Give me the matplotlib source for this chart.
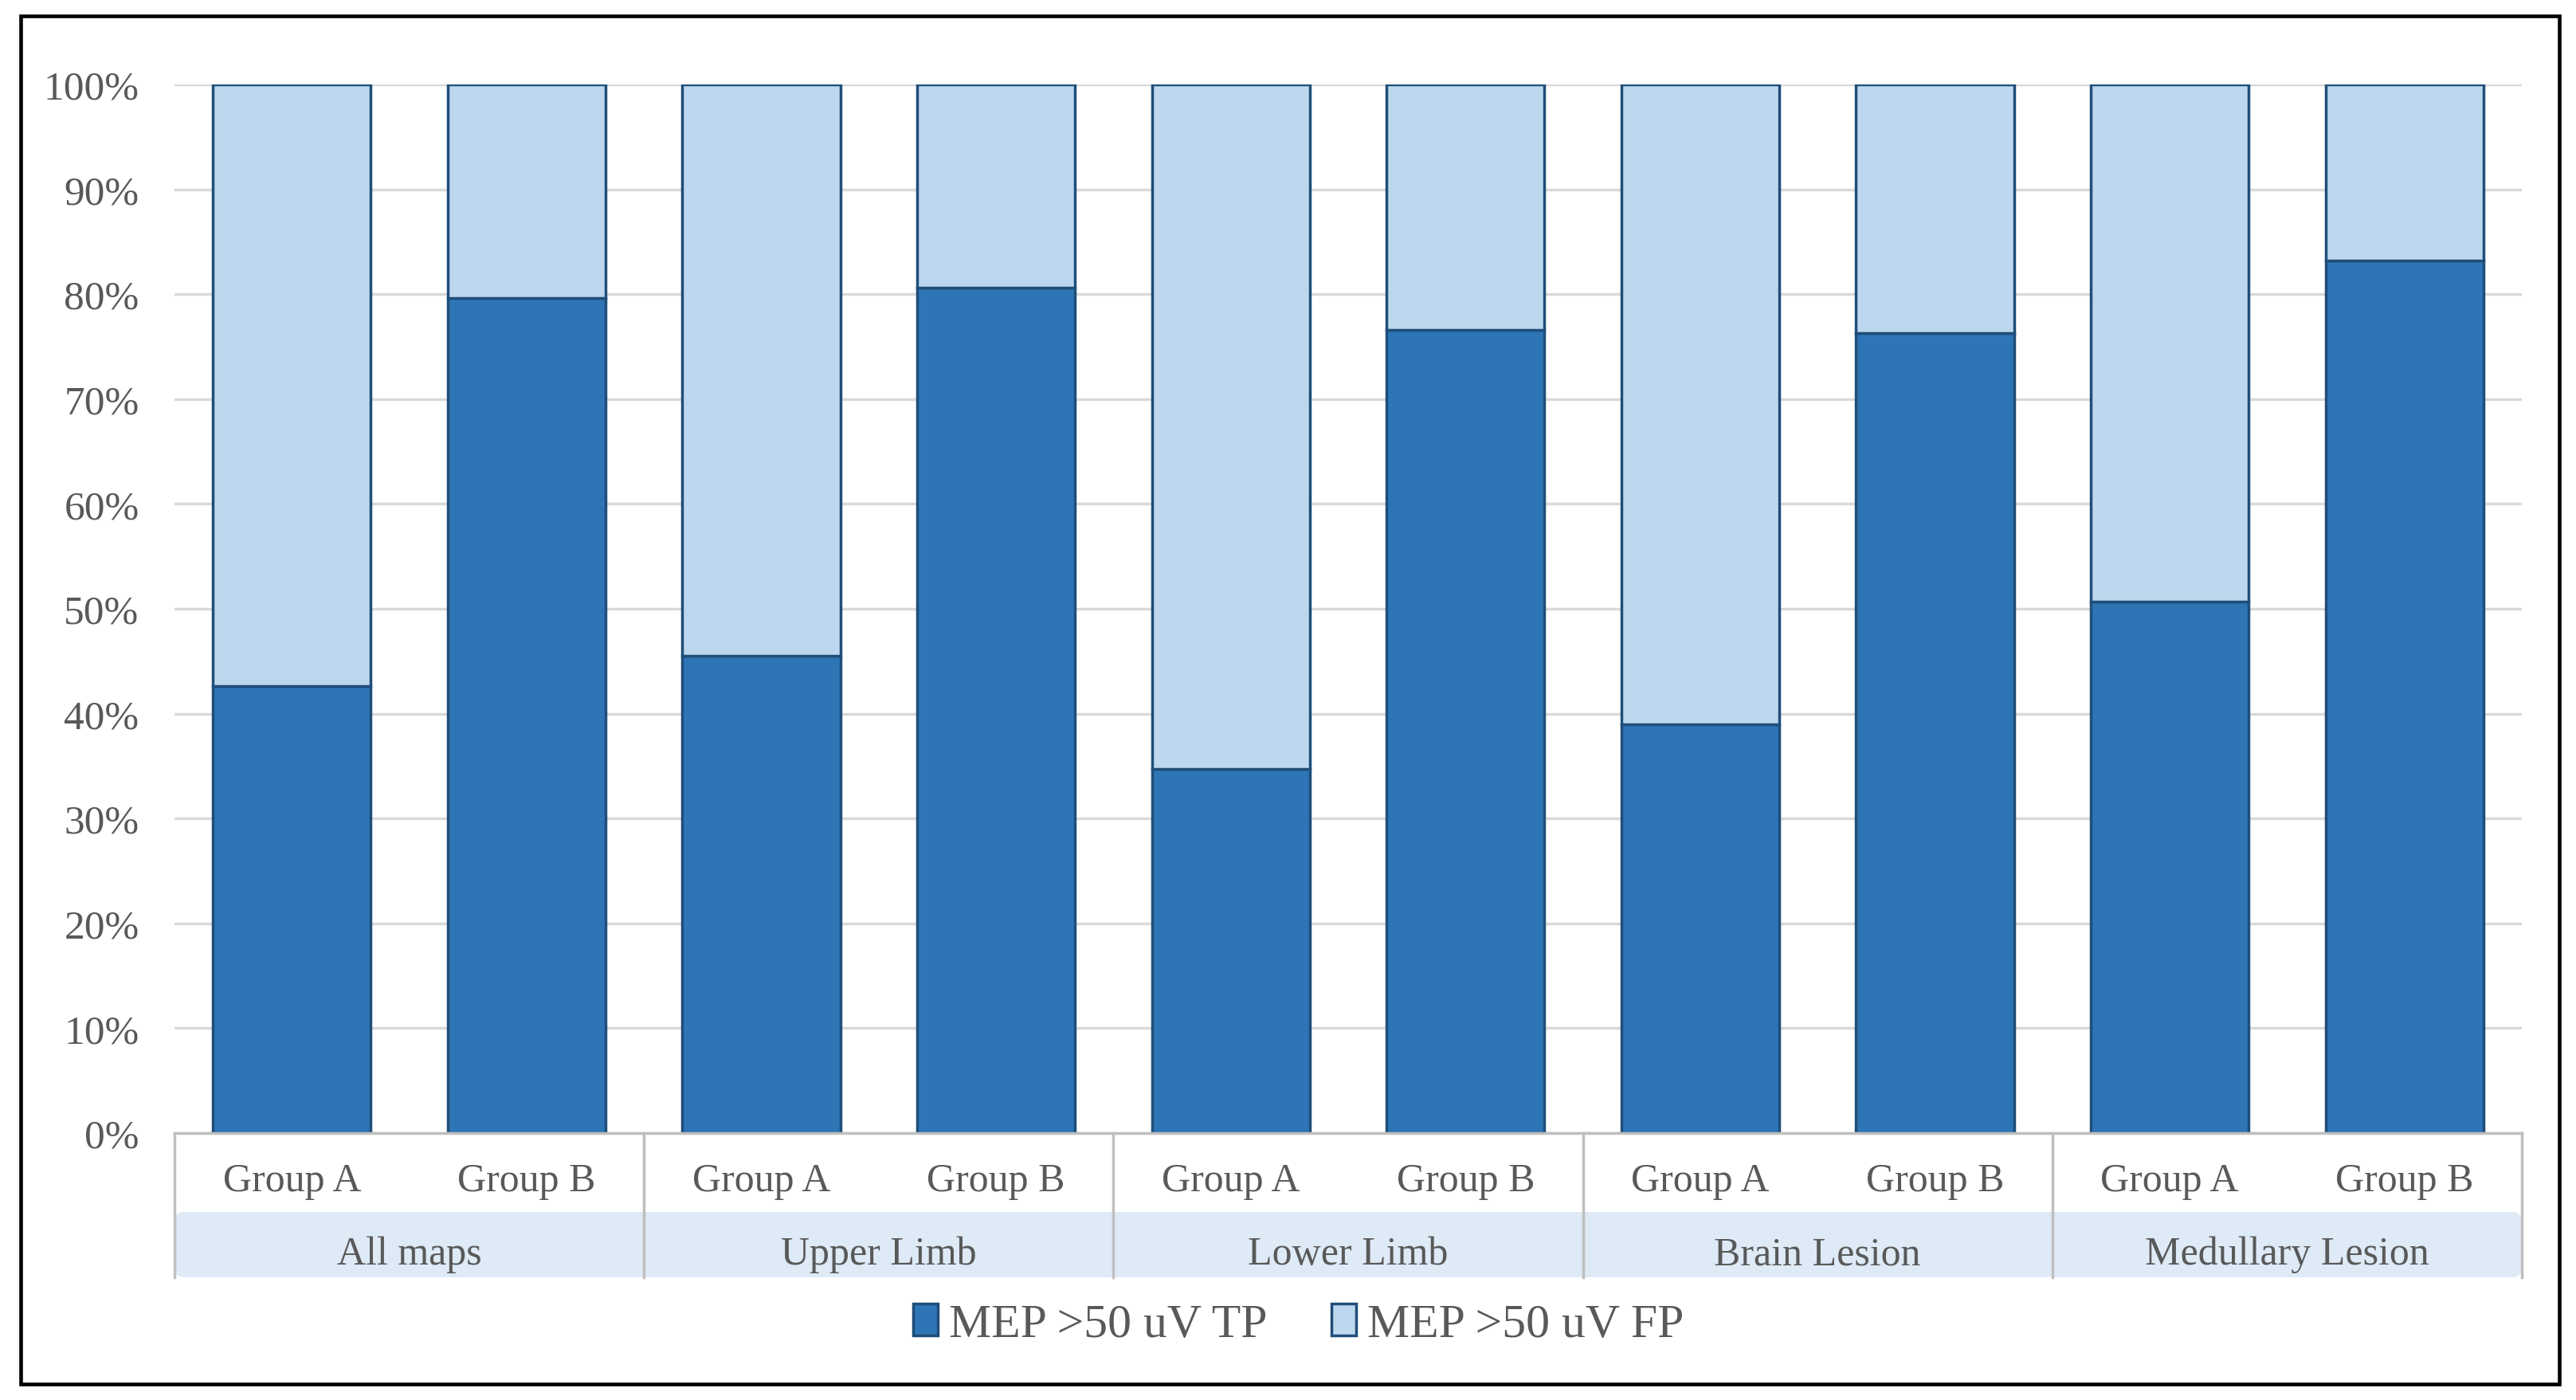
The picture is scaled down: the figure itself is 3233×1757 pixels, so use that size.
import matplotlib
matplotlib.use("Agg")
import matplotlib.pyplot as plt
from matplotlib.patches import FancyBboxPatch, Rectangle, Patch
from matplotlib.lines import Line2D
import matplotlib.transforms as mtransforms
from matplotlib.ticker import PercentFormatter

plt.rcParams['font.family'] = ['Liberation Serif', 'DejaVu Serif']

# data
categories = ["All maps", "Upper Limb", "Lower Limb", "Brain Lesion", "Medullary Lesion"]
groups = ["Group A", "Group B"]
tp = [42.6, 79.6, 45.5, 80.6, 34.7, 76.6, 39.0, 76.3, 50.7, 83.2]
fp = [100 - v for v in tp]
series_names = ["MEP >50 uV TP", "MEP >50 uV FP"]

dark = "#2E75B6"
light = "#BDD7EE"
edge = "#1F4E79"
txt = "#595959"

W, H = 3233, 1758
fig = plt.figure(figsize=(W / 100, H / 100), dpi=100)
left, right = 219, 3165
ax = fig.add_axes([left / W, 1 - 1423 / H, (right - left) / W, (1423 - 107) / H])

x = list(range(len(tp)))
ax.bar(x, tp, width=0.673, color=dark, edgecolor=edge, linewidth=2.5, zorder=3)
ax.bar(x, fp, width=0.673, bottom=tp, color=light, edgecolor=edge, linewidth=2.5, zorder=3)

ax.set_xlim(-0.5, len(tp) - 0.5)
ax.set_ylim(0, 100)
ax.set_yticks(range(0, 101, 10))
ax.yaxis.set_major_formatter(PercentFormatter(decimals=0))
ax.yaxis.grid(True, color="#D9D9D9", linewidth=2.5, zorder=0)
ax.set_xticks([])
ax.tick_params(axis="y", length=0, pad=32, labelsize=37, labelcolor=txt)
for s in ["top", "right", "left"]:
    ax.spines[s].set_visible(False)
ax.spines["bottom"].set_color("#BFBFBF")
ax.spines["bottom"].set_linewidth(2.5)
ax.spines["bottom"].set_zorder(4)

trans = mtransforms.blended_transform_factory(ax.transData, fig.transFigure)

# category band
band = FancyBboxPatch((left / W, 1 - 1604 / H), (right - left) / W, (1604 - 1522) / H,
                      boxstyle="round,pad=0,rounding_size=0.004", mutation_aspect=W / H,
                      transform=fig.transFigure, facecolor="#DEEAF6", edgecolor="none",
                      zorder=1, clip_on=False)
ax.add_patch(band)

for i in range(len(tp)):
    ax.text(i, 1 - 1483 / H, groups[i % 2], transform=trans, ha="center", va="center",
            fontsize=36, color=txt, clip_on=False, zorder=5)
for j, c in enumerate(categories):
    ax.text(2 * j + 0.5, 1 - 1575 / H, c, transform=trans, ha="center", va="center",
            fontsize=36, color=txt, clip_on=False, zorder=5)
for k in range(len(categories) + 1):
    ax.add_line(Line2D([2 * k - 0.5, 2 * k - 0.5], [1 - 1423 / H, 1 - 1604 / H], transform=trans,
                       color="#BFBFBF", linewidth=2.5, clip_on=False, zorder=4))

handles = [Patch(facecolor=dark, edgecolor=edge, linewidth=2.5),
           Patch(facecolor=light, edgecolor=edge, linewidth=2.5)]
fig.legend(handles, series_names, loc="center", bbox_to_anchor=(0.504, 1 - 1664 / H), ncol=2,
           frameon=False, fontsize=43, labelcolor=txt, handlelength=0.52, handleheight=0.65,
           handletextpad=0.23, columnspacing=1.35)

fig.patches.append(Rectangle((26 / W, 1 - 1738 / H), (3212 - 26) / W, (1738 - 21) / H,
                             transform=fig.transFigure, fill=False, edgecolor="black", linewidth=3.3))

fig.savefig("out.png", dpi=100)
